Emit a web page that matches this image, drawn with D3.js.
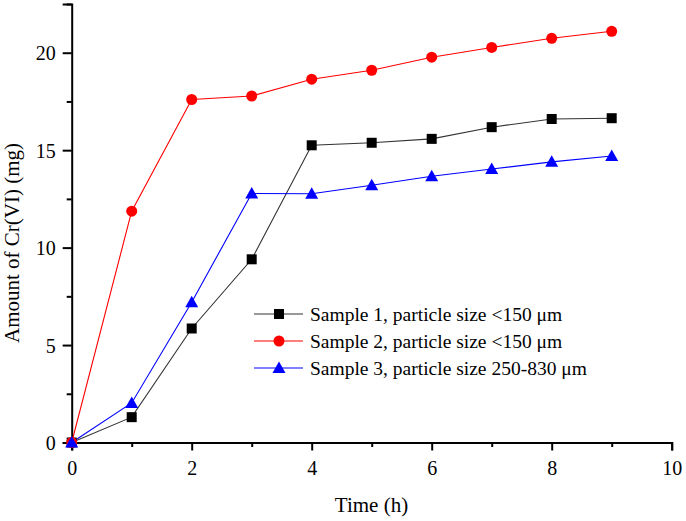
<!DOCTYPE html>
<html><head><meta charset="utf-8">
<script src="https://cdn.jsdelivr.net/npm/d3@7"></script>
<style>body{margin:0;background:#fff}svg{display:block}text{font-family:"Liberation Serif","Times New Roman",serif;fill:#000}</style>
</head><body><svg id="c" width="686" height="521"></svg>
<script>
const times = [0,1,2,3,4,5,6,7,8,9];
const sample1 = [0,1.3,5.85,9.4,15.25,15.38,15.58,16.18,16.6,16.64];
const sample2 = [0,11.87,17.6,17.78,18.64,19.1,19.77,20.27,20.74,21.1];
const sample3 = [0,2.03,7.2,12.78,12.76,13.2,13.66,14.03,14.4,14.7];
const seriesNames = ["Sample 1, particle size <150 \u03bcm","Sample 2, particle size <150 \u03bcm","Sample 3, particle size 250-830 \u03bcm"];
const colors = ["#000000","#ff0000","#0000ff"];
const lineColors = ["#333333","#ff0000","#0000ff"];
const markers = ["square","circle","triangle"];

const svg = d3.select("#c");
const x = d3.scaleLinear().domain([0,10]).range([71.7,671.7]);
const y = d3.scaleLinear().domain([0,22.5]).range([442.5,4]);

// axes
const xAx = svg.append("g").attr("transform","translate(0,442.5)");
xAx.call(d3.axisBottom(x).tickValues(d3.range(0,11,1)).tickSize(8).tickFormat(d=>d%2===0?d:""));
xAx.selectAll(".tick line").attr("y2",d=>d%2===0?8:4.5);
const yAx = svg.append("g").attr("transform","translate(71.7,0)");
yAx.call(d3.axisLeft(y).tickValues(d3.range(0,22.6,2.5)).tickSize(9).tickFormat(d=>d%5===0?d:""));
yAx.selectAll(".tick line").attr("x2",d=>d%5===0?-9:-5);
[xAx,yAx].forEach(a=>{
  a.select(".domain").attr("stroke","#000").attr("stroke-width",2);
  a.selectAll(".tick line").attr("stroke","#000").attr("stroke-width",2);
  a.selectAll("text").style("font-size","20px").style("font-family","'Liberation Serif',serif").attr("fill","#000");
});
xAx.selectAll("text").attr("dy","0").attr("y",32);
yAx.selectAll("text").attr("x",-16).attr("dy","0.35em");

svg.append("text").attr("x",371.5).attr("y",512).attr("text-anchor","middle").style("font-size","21px").text("Time (h)");
svg.append("text").attr("transform","translate(12,243) rotate(-90)").attr("dy","0.35em").attr("text-anchor","middle").style("font-size","21px").text("Amount of Cr(VI) (mg)");

const data = [sample1,sample2,sample3];
function drawMarker(g,type,cx,cy,col){
  if(type==="square") g.append("rect").attr("x",cx-5).attr("y",cy-5).attr("width",10).attr("height",10).attr("fill",col);
  else if(type==="circle") g.append("circle").attr("cx",cx).attr("cy",cy).attr("r",5.5).attr("fill",col);
  else g.append("path").attr("d",`M${cx},${cy-6.5}L${cx+6.5},${cy+5}L${cx-6.5},${cy+5}Z`).attr("fill",col);
}
const line = d3.line().x((d,i)=>x(times[i])).y(d=>y(d));
data.forEach((s,k)=>{
  svg.append("path").datum(s).attr("d",line).attr("fill","none").attr("stroke",lineColors[k]).attr("stroke-width",1.1);
});
data.forEach((s,k)=>{
  const g = svg.append("g");
  s.forEach((v,i)=>drawMarker(g,markers[k],x(times[i]),y(v),colors[k]));
});

// legend
const leg = svg.append("g");
seriesNames.forEach((n,k)=>{
  const ly = 314 + k*27;
  leg.append("line").attr("x1",254).attr("x2",303).attr("y1",ly).attr("y2",ly).attr("stroke",lineColors[k]).attr("stroke-width",1.1);
  drawMarker(leg,markers[k],279,ly,colors[k]);
  leg.append("text").attr("x",310).attr("y",ly).attr("dy","0.35em").style("font-size","19.5px").text(n);
});
</script></body></html>
